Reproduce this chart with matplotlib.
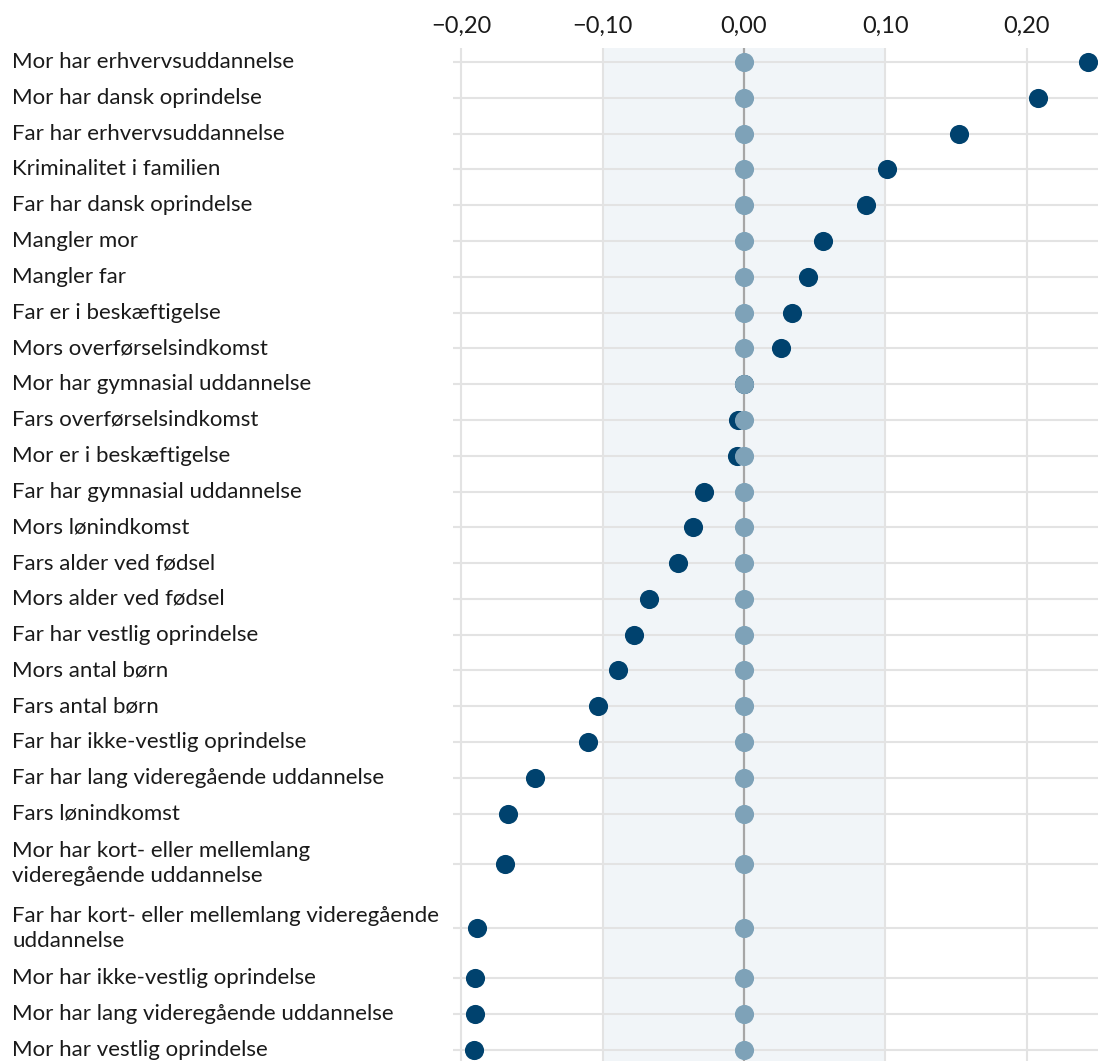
import matplotlib

matplotlib.use("Agg")
import matplotlib.pyplot as plt
import matplotlib.transforms as mtransforms
import numpy as np

plt.rcParams["font.family"] = ["Lato", "DejaVu Sans"]

labels = [
    "Mor har erhvervsuddannelse",
    "Mor har dansk oprindelse",
    "Far har erhvervsuddannelse",
    "Kriminalitet i familien",
    "Far har dansk oprindelse",
    "Mangler mor",
    "Mangler far",
    "Far er i beskæftigelse",
    "Mors overførselsindkomst",
    "Mor har gymnasial uddannelse",
    "Fars overførselsindkomst",
    "Mor er i beskæftigelse",
    "Far har gymnasial uddannelse",
    "Mors lønindkomst",
    "Fars alder ved fødsel",
    "Mors alder ved fødsel",
    "Far har vestlig oprindelse",
    "Mors antal børn",
    "Fars antal børn",
    "Far har ikke-vestlig oprindelse",
    "Far har lang videregående uddannelse",
    "Fars lønindkomst",
    "Mor har kort- eller mellemlang\nvideregående uddannelse",
    "Far har kort- eller mellemlang videregående\nuddannelse",
    "Mor har ikke-vestlig oprindelse",
    "Mor har lang videregående uddannelse",
    "Mor har vestlig oprindelse",
]
effect = [
    0.243, 0.208, 0.152, 0.101, 0.086, 0.056, 0.045, 0.034, 0.026, 0.000,
    -0.004, -0.005, -0.028, -0.036, -0.047, -0.067, -0.078, -0.089, -0.103,
    -0.110, -0.148, -0.167, -0.169, -0.189, -0.190, -0.190, -0.191,
]
reference = [0.0] * len(labels)
xticks = [-0.20, -0.10, 0.00, 0.10, 0.20]

DARK = "#00426e"
LIGHT = "#7ea2b8"
GRID = "#e3e3e3"

# row positions: two-line labels take more room
heights = [1.8 if "\n" in s else 1.0 for s in labels]
ypos = []
acc = 0.0
for i, h in enumerate(heights):
    if i == 0:
        acc = 0.0
    else:
        acc += (heights[i - 1] + h) / 2
    ypos.append(acc)

fig = plt.figure(figsize=(10.98, 10.61), dpi=100)
ax = fig.add_axes([453 / 1098, 0, 1 - 453 / 1098, 1 - 48 / 1061])

ax.axvspan(-0.10, 0.10, color="#f1f5f8", zorder=0, lw=0)
for y in ypos:
    ax.axhline(y, color=GRID, lw=1.5, zorder=1)
for x in xticks:
    if x != 0:
        ax.axvline(x, color=GRID, lw=1.5, zorder=1)
ax.axvline(0, color="#a6a6a6", lw=1.6, zorder=2)

ax.scatter(effect, ypos, s=190, color=DARK, zorder=3, lw=0, clip_on=False)
ax.scatter(reference, ypos, s=190, color=LIGHT, zorder=4, lw=0)

ax.set_xlim(-0.2057, 0.2502)
ax.set_ylim(ypos[-1] + 0.31, -0.39)
ax.xaxis.tick_top()
ax.set_xticks(xticks)
ax.set_xticklabels([f"{v:.2f}".replace(".", ",").replace("-", "\u2212") for v in xticks])
ax.tick_params(axis="x", length=0, pad=8, labelsize=17, labelcolor="#1a1a1a")
ax.set_yticks([])
for sp in ax.spines.values():
    sp.set_visible(False)

trans = mtransforms.blended_transform_factory(fig.transFigure, ax.transData)
for s, y in zip(labels, ypos):
    ax.text(12 / 1098, y, s, transform=trans, ha="left", va="center",
            fontsize=16, color="#1a1a1a", linespacing=1.3)

fig.savefig("out.png", dpi=100)
